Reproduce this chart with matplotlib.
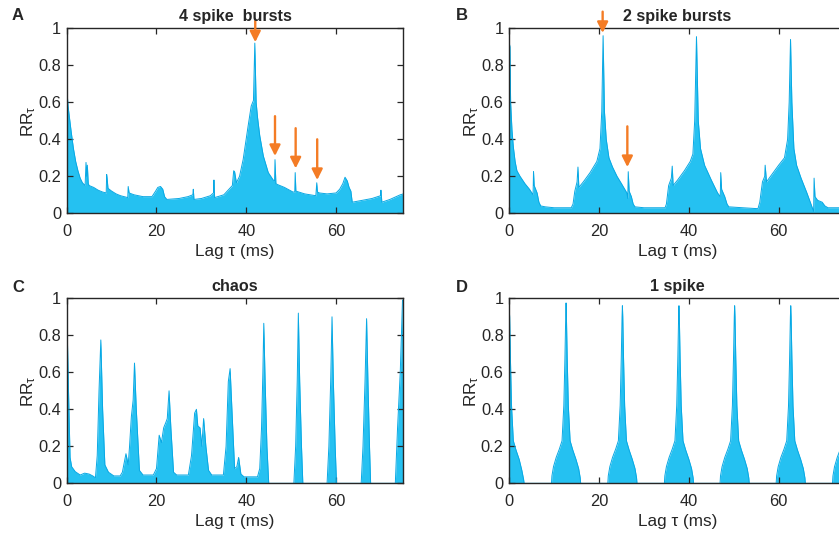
import numpy as np
import matplotlib
matplotlib.use('Agg')
from matplotlib import pyplot as plt

plt.rcParams['font.family'] = ['Liberation Sans', 'DejaVu Sans']
plt.rcParams['mathtext.fontset'] = 'custom'
plt.rcParams['mathtext.rm'] = 'Liberation Sans'
plt.rcParams['mathtext.it'] = 'Liberation Sans'

# Panel A: 4 spike bursts
a_lag = [0.0, 0.1, 0.3, 0.6, 1.0, 1.5, 2.0, 2.5, 3.0, 3.5, 4.1, 4.3, 4.45, 4.6, 4.8, 5.0,
         6.0, 7.0, 8.0, 8.8, 8.9, 9.0, 9.2, 10.0, 11.0, 12.0, 13.6, 13.7, 13.9, 15.0, 17.0,
         19.0, 19.8, 20.3, 20.9, 21.4, 21.8, 22.3, 25.0, 27.0, 28.1, 28.2, 28.35, 30.0,
         32.0, 32.7, 32.8, 32.95, 35.0, 36.9, 37.2, 37.4, 37.8, 38.5, 39.3, 40.4, 41.1,
         41.6, 41.9, 42.2, 42.5, 43.0, 43.8, 44.9, 46.0, 46.3, 46.4, 46.6, 47.0, 48.5,
         50.4, 50.8, 50.9, 51.05, 53.0, 55.5, 55.7, 55.85, 56.3, 58.0, 60.0, 60.8, 61.5,
         62.0, 62.5, 62.9, 63.3, 63.6, 65.8, 68.0, 69.9, 70.0, 70.2, 72.0, 74.3, 75.0]
a_rr = [0.94, 0.65, 0.58, 0.52, 0.44, 0.35, 0.28, 0.23, 0.19, 0.165, 0.15, 0.275, 0.2, 0.26, 0.16, 0.15,
        0.14, 0.125, 0.115, 0.11, 0.21, 0.19, 0.135, 0.12, 0.105, 0.095, 0.085, 0.145, 0.11, 0.1, 0.09,
        0.09, 0.12, 0.14, 0.145, 0.13, 0.09, 0.075, 0.08, 0.09, 0.1, 0.13, 0.075, 0.08,
        0.095, 0.11, 0.18, 0.085, 0.1, 0.15, 0.23, 0.225, 0.165, 0.2, 0.29, 0.47, 0.58,
        0.61, 0.92, 0.6, 0.52, 0.42, 0.31, 0.22, 0.18, 0.175, 0.29, 0.16, 0.155, 0.14,
        0.115, 0.115, 0.22, 0.12, 0.105, 0.095, 0.165, 0.115, 0.11, 0.105, 0.11, 0.13, 0.16,
        0.195, 0.175, 0.14, 0.12, 0.06, 0.07, 0.08, 0.095, 0.125, 0.06, 0.075, 0.1, 0.105]

# Panel B: 2 spike bursts
b_lag = [0.0, 0.15, 0.3, 0.6, 0.9, 1.3, 1.7, 2.4, 3.5, 4.5, 5.3, 5.4, 5.55, 6.2, 6.6, 7.0,
         8.0, 10.0, 13.8, 14.2, 14.6, 15.1, 15.3, 15.5, 16.5, 18.0, 19.5, 20.2, 20.6, 20.9,
         21.2, 21.6, 22.2, 23.0, 24.0, 25.0, 26.2, 26.4, 26.5, 26.7, 27.2, 27.6, 28.0, 30.0,
         34.7, 35.0, 35.5, 36.1, 36.3, 36.5, 37.5, 39.0, 40.3, 40.9, 41.3, 41.7, 42.1, 42.6,
         43.5, 45.0, 46.4, 47.0, 47.1, 47.3, 48.0, 48.5, 48.9, 52.0, 55.4, 55.8, 56.4, 56.9,
         57.0, 57.3, 58.5, 60.0, 61.3, 62.0, 62.35, 62.65, 62.95, 63.4, 64.0, 65.0, 66.3,
         67.2, 67.8, 67.9, 68.1, 68.7, 69.7, 70.3, 71.0, 75.0]
b_rr = [0.92, 0.9, 0.6, 0.45, 0.36, 0.28, 0.23, 0.2, 0.16, 0.13, 0.1, 0.225, 0.15, 0.11, 0.06, 0.04,
        0.035, 0.03, 0.03, 0.05, 0.12, 0.17, 0.25, 0.14, 0.17, 0.22, 0.28, 0.35, 0.55, 0.96,
        0.55, 0.4, 0.3, 0.25, 0.2, 0.16, 0.11, 0.08, 0.225, 0.12, 0.09, 0.05, 0.035, 0.03,
        0.03, 0.05, 0.15, 0.19, 0.255, 0.15, 0.18, 0.23, 0.28, 0.32, 0.5, 0.955, 0.5, 0.35,
        0.26, 0.18, 0.11, 0.09, 0.22, 0.13, 0.09, 0.05, 0.035, 0.03, 0.025, 0.06, 0.17, 0.2,
        0.26, 0.17, 0.21, 0.26, 0.3, 0.4, 0.6, 0.94, 0.6, 0.35, 0.26, 0.19, 0.11,
        0.05, 0.01, 0.19, 0.09, 0.07, 0.06, 0.04, 0.03, 0.03]

# Panel C: chaos
c_lag = [0.0, 0.4, 0.75, 1.1, 1.9, 3.0, 4.0, 5.0, 5.8, 6.4, 6.8, 7.2, 7.6, 8.0, 8.5, 9.3,
         10.5, 11.9, 12.4, 13.2, 13.7, 14.0, 14.4, 14.8, 15.1, 15.5, 16.2, 17.0, 19.3, 20.0,
         20.4, 20.6, 21.1, 21.6, 22.1, 22.4, 22.8, 23.2, 23.8, 24.5, 27.1, 27.8, 28.5, 28.9,
         29.2, 29.7, 30.1, 30.5, 31.0, 31.6, 32.3, 34.9, 35.5, 36.0, 36.4, 36.8, 37.4, 37.9,
         38.3, 38.8, 39.5, 42.5, 43.0, 43.4, 43.7, 43.9, 44.2, 44.6, 45.0, 50.6, 51.0, 51.35,
         51.6, 51.9, 52.3, 52.6, 58.0, 58.4, 58.8, 59.1, 59.4, 59.8, 60.1, 65.6, 66.0, 66.45,
         66.8, 67.1, 67.45, 67.7, 73.2, 73.7, 74.3, 74.8, 75.0]
c_rr = [0.955, 0.5, 0.14, 0.09, 0.063, 0.045, 0.055, 0.05, 0.04, 0.03, 0.15, 0.5, 0.775, 0.4, 0.1, 0.06,
        0.04, 0.04, 0.06, 0.16, 0.1, 0.2, 0.36, 0.45, 0.65, 0.4, 0.07, 0.045, 0.045, 0.08,
        0.2, 0.26, 0.22, 0.3, 0.33, 0.35, 0.5, 0.3, 0.06, 0.045, 0.045, 0.15, 0.38, 0.4,
        0.31, 0.3, 0.2, 0.35, 0.2, 0.07, 0.045, 0.045, 0.2, 0.55, 0.62, 0.4, 0.08, 0.09,
        0.14, 0.05, 0.035, 0.035, 0.08, 0.3, 0.6, 0.865, 0.55, 0.2, 0.0, 0.0, 0.2, 0.55,
        0.92, 0.55, 0.2, 0.0, 0.0, 0.2, 0.55, 0.9, 0.55, 0.2, 0.0, 0.0, 0.2, 0.55,
        0.89, 0.55, 0.2, 0.0, 0.0, 0.3, 0.6, 0.99, 0.99]

# Panel D: 1 spike
d_lag = [0.0, 0.08, 0.25, 0.5, 0.9, 1.5, 2.2, 2.8, 3.2, 3.3,
         9.4, 9.5, 9.85, 10.45, 11.15, 11.75, 12.15, 12.4, 12.57, 12.65, 12.73, 12.9, 13.15, 13.55, 14.15, 14.85, 15.45, 15.8, 15.9,
         21.95, 22.05, 22.4, 23.0, 23.7, 24.3, 24.7, 24.95, 25.12, 25.2, 25.28, 25.45, 25.7, 26.1, 26.7, 27.4, 28.0, 28.35, 28.45,
         34.55, 34.65, 35.0, 35.6, 36.3, 36.9, 37.3, 37.55, 37.72, 37.8, 37.88, 38.05, 38.3, 38.7, 39.3, 40.0, 40.6, 40.95, 41.05,
         46.95, 47.05, 47.4, 48.0, 48.7, 49.3, 49.7, 49.95, 50.12, 50.2, 50.28, 50.45, 50.7, 51.1, 51.7, 52.4, 53.0, 53.35, 53.45,
         59.45, 59.55, 59.9, 60.5, 61.2, 61.8, 62.2, 62.45, 62.62, 62.7, 62.78, 62.95, 63.2, 63.6, 64.2, 64.9, 65.5, 65.85, 65.95,
         72.0, 72.1, 72.45, 73.05, 73.75, 74.35, 74.75, 75.0]
d_rr = [0.94, 0.9, 0.68, 0.42, 0.23, 0.18, 0.13, 0.07, 0.02, 0.0,
        0.0, 0.04, 0.09, 0.14, 0.185, 0.23, 0.42, 0.68, 0.9, 0.975, 0.9, 0.68, 0.42, 0.23, 0.18, 0.13, 0.08, 0.03, 0.0,
        0.0, 0.04, 0.09, 0.14, 0.185, 0.23, 0.42, 0.68, 0.9, 0.96, 0.9, 0.68, 0.42, 0.23, 0.18, 0.13, 0.08, 0.03, 0.0,
        0.0, 0.04, 0.09, 0.14, 0.185, 0.23, 0.42, 0.68, 0.9, 0.96, 0.9, 0.68, 0.42, 0.23, 0.18, 0.13, 0.08, 0.03, 0.0,
        0.0, 0.04, 0.09, 0.14, 0.185, 0.23, 0.42, 0.68, 0.9, 0.96, 0.9, 0.68, 0.42, 0.23, 0.18, 0.13, 0.08, 0.03, 0.0,
        0.0, 0.04, 0.09, 0.14, 0.185, 0.23, 0.42, 0.68, 0.9, 0.96, 0.9, 0.68, 0.42, 0.23, 0.18, 0.13, 0.08, 0.03, 0.0,
        0.0, 0.04, 0.09, 0.14, 0.185, 0.23, 0.42, 0.68]

titles = ['4 spike  bursts', '2 spike bursts', 'chaos', '1 spike']
letters = ['A', 'B', 'C', 'D']

# arrows: (lag, start, tip)
a_arrows = [(42.0, 1.04, 0.925), (46.4, 0.525, 0.31), (51.0, 0.46, 0.243), (55.8, 0.40, 0.18)]
b_arrows = [(20.8, 1.09, 0.975), (26.3, 0.47, 0.25)]

FILL = '#25C1F1'
EDGE = '#08A8E4'
ORANGE = '#F47C25'
DARK = '#262626'

fig = plt.figure(figsize=(8.39, 5.33), dpi=100)
positions = [[0.0795, 0.5998, 0.4013, 0.3471],
             [0.607, 0.5998, 0.4013, 0.3471],
             [0.0795, 0.0932, 0.4013, 0.3471],
             [0.607, 0.0932, 0.4013, 0.3471]]
data = [(a_lag, a_rr), (b_lag, b_rr), (c_lag, c_rr), (d_lag, d_rr)]
arrows = [a_arrows, b_arrows, [], []]
letter_pos = [(12, 16), (456, 16), (12, 287), (456, 287)]

for i in range(4):
    ax = fig.add_axes(positions[i])
    lag, rr = data[i]
    ax.fill_between(lag, 0, rr, color=FILL, linewidth=0)
    ax.plot(lag, rr, color=EDGE, linewidth=0.7)
    ax.set_xlim(0, 75)
    ax.set_ylim(0, 1)
    ax.set_xticks([0, 20, 40, 60])
    ax.set_yticks([0, 0.2, 0.4, 0.6, 0.8, 1])
    ax.set_yticklabels(['0', '0.2', '0.4', '0.6', '0.8', '1'])
    ax.tick_params(direction='in', top=True, right=True, length=4, width=0.9,
                   labelsize=11.8, colors=DARK)
    ax.tick_params(axis='x', pad=8)
    ax.tick_params(axis='y', pad=4)
    for s in ax.spines.values():
        s.set_linewidth(1.0)
        s.set_color(DARK)
    ax.set_xlabel('Lag τ (ms)', fontsize=12.3, color=DARK, labelpad=3)
    ax.set_ylabel(r'RR$_\mathregular{τ}$', fontsize=12.3, color=DARK, labelpad=0)
    ax.set_title(titles[i], fontsize=11.6, fontweight='bold', color=DARK, pad=5.5)
    for (x, y0, y1) in arrows[i]:
        ax.annotate('', xy=(x, y1), xytext=(x, y0),
                    arrowprops=dict(arrowstyle='-|>', color=ORANGE, lw=1.7,
                                    mutation_scale=16, shrinkA=0, shrinkB=0),
                    annotation_clip=False)
    lx, ly = letter_pos[i]
    fig.text(lx / 839, 1 - ly / 533, letters[i], fontsize=12, fontweight='bold',
             color=DARK, ha='left', va='center')

fig.savefig('out.png', dpi=100)
